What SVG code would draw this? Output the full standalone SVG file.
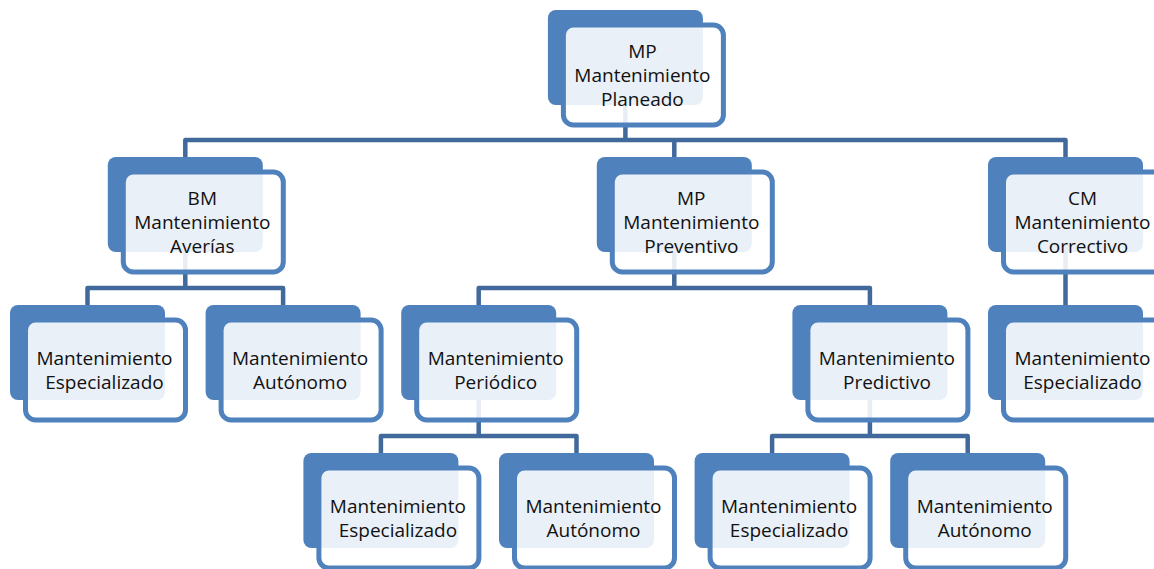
<svg xmlns="http://www.w3.org/2000/svg" width="1154" height="569" viewBox="0 0 1154 569">
<style>
.bk{fill:#4f81bd;}
.fr{fill:#ffffff;fill-opacity:0.88;stroke:#4f81bd;stroke-width:5;}
.cn{fill:none;stroke:#41699c;stroke-width:4.5;stroke-linejoin:round;}
.t{font-family:"Open Sans","Noto Sans","Liberation Sans",sans-serif;font-size:19px;fill:#111;text-anchor:middle;}
</style>
<rect width="1154" height="569" fill="#ffffff"/>
<g id="connectors">
<path class="cn" d="M625.4,105 V140 M185.3,157 V140 H1065.5 V157 M674.3,140 V157"/>
<path class="cn" d="M185.3,252 V288 M87.5,305 V288 H283.1 V305"/>
<path class="cn" d="M674.3,252 V288 M478.7,305 V288 H869.9 V305"/>
<path class="cn" d="M1065.5,252 V305"/>
<path class="cn" d="M478.7,400 V436 M380.9,453 V436 H576.5 V453"/>
<path class="cn" d="M869.9,400 V436 M772.1,453 V436 H967.7 V453"/>
</g>
<g id="n-mp-planeado">
<rect class="bk" x="547.9" y="10" width="155" height="95" rx="8"/>
<rect class="fr" x="563.4" y="25" width="160" height="100" rx="10"/>
<text class="t"><tspan x="642.4" y="58">MP</tspan><tspan x="642.4" y="82">Mantenimiento</tspan><tspan x="642.4" y="106">Planeado</tspan></text>
</g>
<g id="n-bm">
<rect class="bk" x="107.8" y="157" width="155" height="95" rx="8"/>
<rect class="fr" x="123.3" y="172" width="160" height="100" rx="10"/>
<text class="t"><tspan x="202.3" y="205">BM</tspan><tspan x="202.3" y="229">Mantenimiento</tspan><tspan x="202.3" y="253">Averías</tspan></text>
</g>
<g id="n-mp-preventivo">
<rect class="bk" x="596.8" y="157" width="155" height="95" rx="8"/>
<rect class="fr" x="612.3" y="172" width="160" height="100" rx="10"/>
<text class="t"><tspan x="691.3" y="205">MP</tspan><tspan x="691.3" y="229">Mantenimiento</tspan><tspan x="691.3" y="253">Preventivo</tspan></text>
</g>
<g id="n-cm">
<rect class="bk" x="988" y="157" width="155" height="95" rx="8"/>
<rect class="fr" x="1003.5" y="172" width="160" height="100" rx="10"/>
<text class="t"><tspan x="1082.5" y="205">CM</tspan><tspan x="1082.5" y="229">Mantenimiento</tspan><tspan x="1082.5" y="253">Correctivo</tspan></text>
</g>
<g id="n-bm-especializado">
<rect class="bk" x="10" y="305" width="155" height="95" rx="8"/>
<rect class="fr" x="25.5" y="320" width="160" height="100" rx="10"/>
<text class="t"><tspan x="104.5" y="365">Mantenimiento</tspan><tspan x="104.5" y="389">Especializado</tspan></text>
</g>
<g id="n-bm-autonomo">
<rect class="bk" x="205.6" y="305" width="155" height="95" rx="8"/>
<rect class="fr" x="221.1" y="320" width="160" height="100" rx="10"/>
<text class="t"><tspan x="300.1" y="365">Mantenimiento</tspan><tspan x="300.1" y="389">Autónomo</tspan></text>
</g>
<g id="n-periodico">
<rect class="bk" x="401.2" y="305" width="155" height="95" rx="8"/>
<rect class="fr" x="416.7" y="320" width="160" height="100" rx="10"/>
<text class="t"><tspan x="495.7" y="365">Mantenimiento</tspan><tspan x="495.7" y="389">Periódico</tspan></text>
</g>
<g id="n-predictivo">
<rect class="bk" x="792.4" y="305" width="155" height="95" rx="8"/>
<rect class="fr" x="807.9" y="320" width="160" height="100" rx="10"/>
<text class="t"><tspan x="886.9" y="365">Mantenimiento</tspan><tspan x="886.9" y="389">Predictivo</tspan></text>
</g>
<g id="n-cm-especializado">
<rect class="bk" x="988" y="305" width="155" height="95" rx="8"/>
<rect class="fr" x="1003.5" y="320" width="160" height="100" rx="10"/>
<text class="t"><tspan x="1082.5" y="365">Mantenimiento</tspan><tspan x="1082.5" y="389">Especializado</tspan></text>
</g>
<g id="n-per-especializado">
<rect class="bk" x="303.4" y="453" width="155" height="95" rx="8"/>
<rect class="fr" x="318.9" y="468" width="160" height="100" rx="10"/>
<text class="t"><tspan x="397.9" y="513">Mantenimiento</tspan><tspan x="397.9" y="537">Especializado</tspan></text>
</g>
<g id="n-per-autonomo">
<rect class="bk" x="499" y="453" width="155" height="95" rx="8"/>
<rect class="fr" x="514.5" y="468" width="160" height="100" rx="10"/>
<text class="t"><tspan x="593.5" y="513">Mantenimiento</tspan><tspan x="593.5" y="537">Autónomo</tspan></text>
</g>
<g id="n-pre-especializado">
<rect class="bk" x="694.6" y="453" width="155" height="95" rx="8"/>
<rect class="fr" x="710.1" y="468" width="160" height="100" rx="10"/>
<text class="t"><tspan x="789.1" y="513">Mantenimiento</tspan><tspan x="789.1" y="537">Especializado</tspan></text>
</g>
<g id="n-pre-autonomo">
<rect class="bk" x="890.2" y="453" width="155" height="95" rx="8"/>
<rect class="fr" x="905.7" y="468" width="160" height="100" rx="10"/>
<text class="t"><tspan x="984.7" y="513">Mantenimiento</tspan><tspan x="984.7" y="537">Autónomo</tspan></text>
</g>
</svg>
